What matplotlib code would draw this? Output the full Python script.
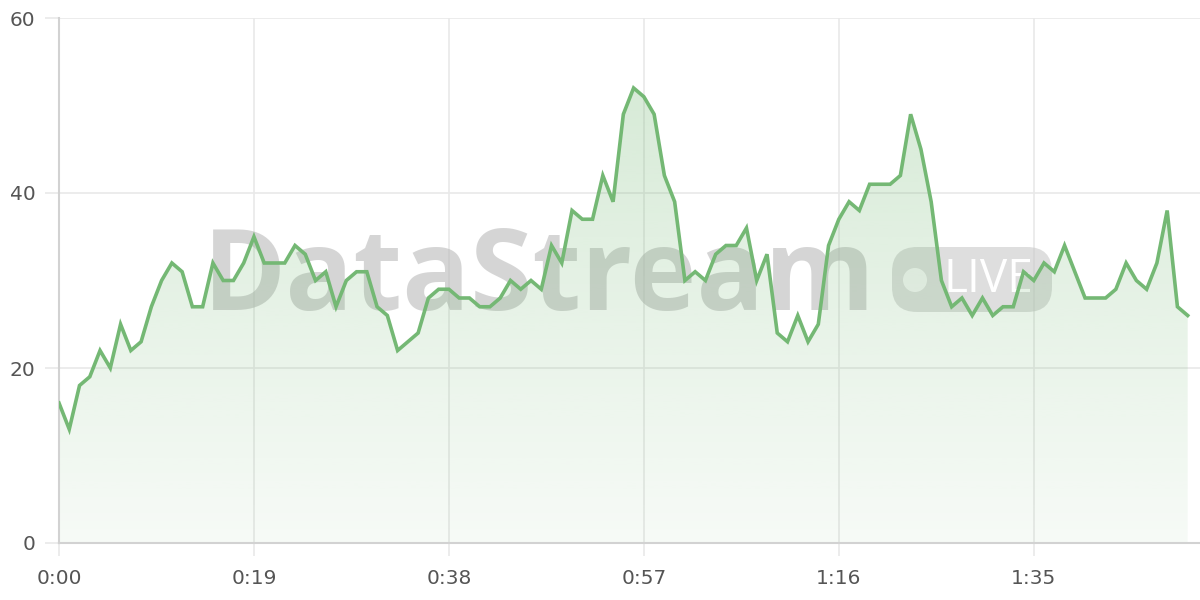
import numpy as np
import matplotlib as mpl
mpl.use("Agg")
import matplotlib.pyplot as plt
from matplotlib.patches import FancyBboxPatch, Circle

# ---------- data ----------
SECONDS = list(range(111))
VALUES = [16, 13, 18, 19, 22, 20, 25, 22, 23, 27,
          30, 32, 31, 27, 27, 32, 30, 30, 32, 35,
          32, 32, 32, 34, 33, 30, 31, 27, 30, 31,
          31, 27, 26, 22, 23, 24, 28, 29, 29, 28,
          28, 27, 27, 28, 30, 29, 30, 29, 34, 32,
          38, 37, 37, 42, 39, 49, 52, 51, 49, 42,
          39, 30, 31, 30, 33, 34, 34, 36, 30, 33,
          24, 23, 26, 23, 25, 34, 37, 39, 38, 41,
          41, 41, 42, 49, 45, 39, 30, 27, 28, 26,
          28, 26, 27, 27, 31, 30, 32, 31, 34, 31,
          28, 28, 28, 29, 32, 30, 29, 32, 38, 27,
          26]
X_TICKS = [0, 19, 38, 57, 76, 95]
X_LABELS = ["0:00", "0:19", "0:38", "0:57", "1:16", "1:35"]
Y_TICKS = [0, 20, 40, 60]

GREEN = "#74b874"
LABEL = "#555555"
GRID = "#e9e9e9"

mpl.rcParams.update({"font.family": ["DejaVu Sans"]})

fig = plt.figure(figsize=(12, 6), dpi=100)
fig.patch.set_facecolor("white")
ax = fig.add_axes([59 / 1200, 57 / 600, 1 - 59 / 1200, 525 / 600])
ax.set_facecolor("none")

x = np.array(SECONDS, dtype=float)
y = np.array(VALUES, dtype=float)

# gradient area under the line
poly = ax.fill_between(x, y, 0, color="none", lw=0, zorder=1)
grad = np.zeros((256, 1, 4))
rgb = mpl.colors.to_rgb(GREEN)
grad[..., 0], grad[..., 1], grad[..., 2] = rgb
grad[:, 0, 3] = np.linspace(0.32, 0.06, 256)
img = ax.imshow(grad, aspect="auto", extent=[0, x.max(), 0, 60],
                origin="upper", zorder=1, interpolation="bilinear")
img.set_clip_path(poly.get_paths()[0], transform=ax.transData)

ax.plot(x, y, color=GREEN, lw=2.6, solid_joinstyle="miter", zorder=3)

# watermark (placed in inch space, 100 px per inch)
tr = fig.dpi_scale_trans
ax.text(5.39, 2.90, "DataStream", transform=tr, ha="center", va="baseline",
        fontsize=81, fontweight="bold", family="Open Sans",
        color="#b4b4b4", alpha=0.55, zorder=0.6, clip_on=False)
ax.add_patch(FancyBboxPatch((8.92, 2.88), 1.60, 0.65,
                            boxstyle="round,pad=0,rounding_size=0.25",
                            transform=tr, fc="#c4c4c4", ec="none", alpha=0.55,
                            zorder=0.6, clip_on=False))
ax.add_patch(Circle((9.15, 3.20), 0.12, transform=tr, fc="white", ec="none",
                    alpha=0.75, zorder=0.7, clip_on=False))
ax.text(9.88, 3.20, "LIVE", transform=tr, ha="center", va="center",
        fontsize=33, family="Open Sans", color="white", zorder=0.7,
        clip_on=False)

ax.set_xlim(0, 111.2)
ax.set_ylim(0, 60)
ax.set_xticks(X_TICKS)
ax.set_xticklabels(X_LABELS)
ax.set_yticks(Y_TICKS)
ax.grid(True, color=GRID, lw=1.2)
ax.set_axisbelow(True)
ax.tick_params(axis="x", length=9, width=1.2, color=GRID, pad=10,
               labelsize=14.5, labelcolor=LABEL)
ax.tick_params(axis="y", length=10, width=1.2, color=GRID, pad=7,
               labelsize=14.5, labelcolor=LABEL)
for s in ("top", "right"):
    ax.spines[s].set_visible(False)
for s in ("left", "bottom"):
    ax.spines[s].set_color("#d2d2d2")
    ax.spines[s].set_linewidth(1.5)

fig.savefig("out.png", dpi=100)
